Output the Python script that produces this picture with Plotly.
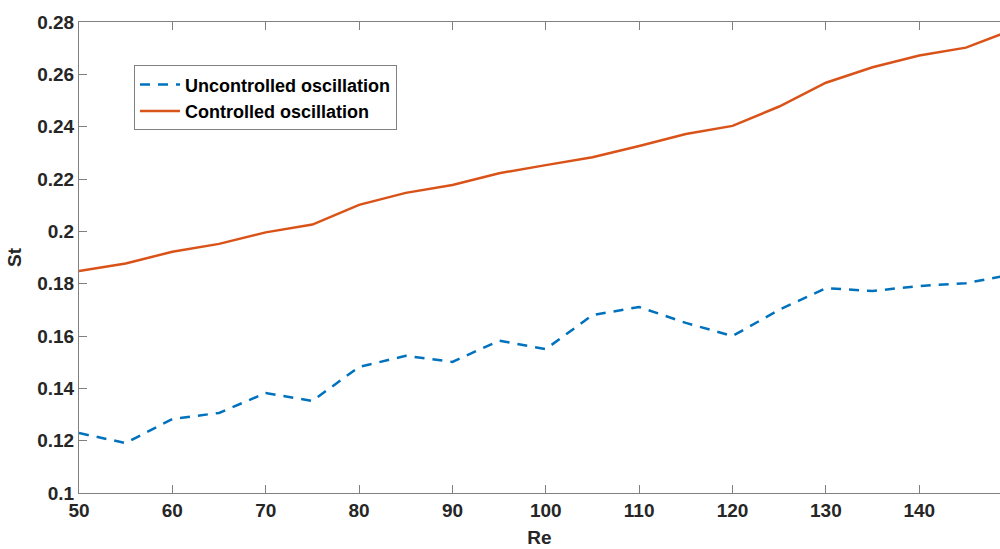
import plotly.graph_objects as go

re_vals = [50, 55, 60, 65, 70, 75, 80, 85, 90, 95, 100, 105, 110, 115, 120, 125, 130, 135, 140, 145, 150]
st_uncontrolled = [0.1229, 0.1191, 0.1283, 0.1306, 0.1382, 0.1352, 0.1482, 0.1524, 0.1501, 0.1582,
                   0.1550, 0.1680, 0.1711, 0.1650, 0.1600, 0.1700, 0.1783, 0.1772, 0.1791, 0.1802, 0.1835]
st_controlled = [0.1848, 0.1877, 0.1922, 0.1952, 0.1996, 0.2026, 0.2101, 0.2147, 0.2177, 0.2222,
                 0.2253, 0.2283, 0.2326, 0.2372, 0.2403, 0.2477, 0.2568, 0.2627, 0.2672, 0.2702, 0.2770]

y_tickvals = [0.1, 0.12, 0.14, 0.16, 0.18, 0.2, 0.22, 0.24, 0.26, 0.28]
y_ticktext = ["0.1", "0.12", "0.14", "0.16", "0.18", "0.2", "0.22", "0.24", "0.26", "0.28"]
x_tickvals = [50, 60, 70, 80, 90, 100, 110, 120, 130, 140, 150]

fig = go.Figure()
fig.add_trace(go.Scatter(x=re_vals, y=st_uncontrolled, mode="lines", name="Uncontrolled oscillation",
                         line=dict(color="#0072BD", width=2.5, dash="10px,8px")))
fig.add_trace(go.Scatter(x=re_vals, y=st_controlled, mode="lines", name="Controlled oscillation",
                         line=dict(color="#D95319", width=2.5)))

FAM = "Liberation Sans, Arial, sans-serif"
tick_font = dict(family=FAM, size=19, color="#262626", weight="bold")
title_font = dict(family=FAM, size=19, color="#262626", weight="bold")

fig.update_layout(
    width=1000, height=549,
    margin=dict(l=79, r=0, t=22, b=56),
    paper_bgcolor="white", plot_bgcolor="white",
    showlegend=True,
    legend=dict(x=0.0597, y=0.908, xanchor="left", yanchor="top",
                bgcolor="white", bordercolor="#808080", borderwidth=1,
                font=dict(family=FAM, size=18, color="#000000", weight="bold"),
                tracegroupgap=0, itemwidth=40),
    font=dict(family=FAM),
)
fig.update_xaxes(range=[50, 148.65], tickvals=x_tickvals, ticks="inside", ticklen=8,
                 tickcolor="#808080", showline=True, linecolor="#808080", linewidth=1,
                 mirror="ticks", showgrid=False, zeroline=False,
                 tickfont=tick_font,
                 title=dict(text="Re", font=title_font, standoff=10))
fig.update_yaxes(range=[0.1, 0.28], tickvals=y_tickvals, ticktext=y_ticktext, ticks="inside", ticklen=8,
                 tickcolor="#808080", showline=True, linecolor="#808080", linewidth=1,
                 showgrid=False, zeroline=False,
                 tickfont=tick_font,
                 title=dict(text="St", font=title_font, standoff=10))

fig.write_html("out.html")
